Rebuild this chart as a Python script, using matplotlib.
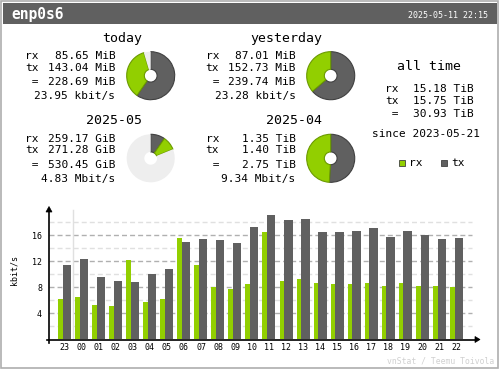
import numpy as np
import matplotlib
matplotlib.use("Agg")
import matplotlib.pyplot as plt
from matplotlib.patches import Rectangle, Polygon

plt.rcParams['font.family'] = ['DejaVu Sans Mono']
plt.rcParams['lines.scale_dashes'] = False

# --- data ---
iface = "enp0s6"
stamp = "2025-05-11 22:15"

periods = ["today", "yesterday", "2025-05", "2025-04"]
rx_vals = [85.65, 87.01, 259.17, 1.35]
tx_vals = [143.04, 152.73, 271.28, 1.40]
sum_vals = [228.69, 239.74, 530.45, 2.75]
units = ["MiB", "MiB", "GiB", "TiB"]
rates = ["23.95 kbit/s", "23.28 kbit/s", "4.83 Mbit/s", "9.34 Mbit/s"]

alltime_rx = 15.18
alltime_tx = 15.75
alltime_sum = 30.93
alltime_since = "2023-05-21"

hours = ['23', '00', '01', '02', '03', '04', '05', '06', '07', '08', '09', '10',
         '11', '12', '13', '14', '15', '16', '17', '18', '19', '20', '21', '22']
rx_rate = [6.2, 6.5, 5.3, 5.1, 12.2, 5.7, 6.2, 15.6, 11.4, 8.05, 7.75, 8.5,
           16.5, 9.0, 9.3, 8.7, 8.5, 8.5, 8.7, 8.2, 8.7, 8.2, 8.2, 8.05]
tx_rate = [11.4, 12.35, 9.6, 9.0, 8.8, 10.05, 10.8, 15.0, 15.4, 15.3, 14.8, 17.3,
           19.1, 18.35, 18.5, 16.5, 16.5, 16.7, 17.1, 15.7, 16.7, 16.05, 15.4, 15.6]
y_ticks = [4, 8, 12, 16]

# colours (vnstat defaults)
c_rx = '#92cf00'
c_tx = '#606060'
c_rx_edge = '#6b9a00'
c_tx_edge = '#404040'
c_pie_bg = '#eeeeee'
c_edge = '#aeaeae'

W, H = 500, 370
fig = plt.figure(figsize=(W / 100, H / 100), dpi=100)
fig.patch.set_facecolor('white')


def px_rect(x0, y0, x1, y1):
    # pixel box (top-left origin) -> figure fraction
    return [x0 / W, 1 - y1 / H, (x1 - x0) / W, (y1 - y0) / H]


# overlay axes in pixel coordinates
ov = fig.add_axes([0, 0, 1, 1], zorder=5)
ov.set_xlim(0, W)
ov.set_ylim(H, 0)
ov.axis('off')
ov.patch.set_alpha(0)

# frame + header
ov.add_patch(Rectangle((0.5, 0.5), W - 2.5, H - 2.5, fill=False, ec=c_edge, lw=1.2))
ov.add_patch(Rectangle((3, 3), 494, 21.3, fc=c_tx, ec='none'))
ov.text(11.5, 18.5, iface, color='white', fontsize=10.5, fontweight='bold', va='baseline')
ov.text(487.5, 17.5, stamp, color='white', fontsize=6, va='baseline', ha='right')

# --- summary blocks ---
mult = {"MiB": 1, "GiB": 1024, "TiB": 1024 * 1024}
layout = [
    # title cx, title baseline, label x, value right x, row baselines, pie centre
    (121.7, 41.7, 25, 115.3, (59.3, 71, 85, 99), (150.7, 75.7)),
    (286.2, 41.7, 205.7, 295.7, (59.3, 71, 85, 99), (330.7, 75.7)),
    (114.2, 124, 25, 115.3, (141.7, 153.3, 167.7, 181.7), (150.7, 158.3)),
    (293.8, 124, 205.7, 295.7, (141.7, 153.3, 167.7, 181.7), (330.7, 158.3)),
]

totals = [s * mult[u] for s, u in zip(sum_vals, units)]
refs = [max(totals[0], totals[1])] * 2 + [max(totals[2], totals[3])] * 2

R = 24.5
hole = 6.5
for i, (tcx, tby, lx, vx, rows, (pcx, pcy)) in enumerate(layout):
    ov.text(tcx, tby, periods[i], fontsize=9.5, ha='center', va='baseline')
    ov.text(lx, rows[0], "rx", fontsize=8, va='baseline')
    ov.text(lx, rows[1], "tx", fontsize=8, va='baseline')
    ov.text(lx, rows[2], " =", fontsize=8, va='baseline')
    ov.text(vx, rows[0], f"{rx_vals[i]:.2f} {units[i]}", fontsize=8, va='baseline', ha='right')
    ov.text(vx, rows[1], f"{tx_vals[i]:.2f} {units[i]}", fontsize=8, va='baseline', ha='right')
    ov.text(vx, rows[2], f"{sum_vals[i]:.2f} {units[i]}", fontsize=8, va='baseline', ha='right')
    ov.text(vx, rows[3], rates[i], fontsize=8, va='baseline', ha='right')

    txf = tx_vals[i] * mult[units[i]] / refs[i]
    rxf = rx_vals[i] * mult[units[i]] / refs[i]
    rest = max(0.0, 1 - txf - rxf)
    pax = fig.add_axes(px_rect(pcx - R, pcy - R, pcx + R, pcy + R), zorder=4)
    wedges, _ = pax.pie([txf, rxf, rest], colors=[c_tx, c_rx, c_pie_bg], startangle=90,
                        counterclock=False, normalize=False, radius=1,
                        wedgeprops=dict(width=(R - hole) / R, linewidth=0.8))
    wedges[0].set_edgecolor(c_tx_edge)
    wedges[1].set_edgecolor(c_rx_edge)
    wedges[2].set_edgecolor('none')
    pax.set_xlim(-1.02, 1.02)
    pax.set_ylim(-1.02, 1.02)
    pax.set_aspect('equal')

# all time
ov.text(428.7, 70, "all time", fontsize=9.5, ha='center', va='baseline')
ov.text(385, 91.7, "rx", fontsize=8, va='baseline')
ov.text(385, 104, "tx", fontsize=8, va='baseline')
ov.text(385, 117.3, " =", fontsize=8, va='baseline')
ov.text(474, 91.7, f"{alltime_rx:.2f} TiB", fontsize=8, va='baseline', ha='right')
ov.text(474, 104, f"{alltime_tx:.2f} TiB", fontsize=8, va='baseline', ha='right')
ov.text(474, 117.3, f"{alltime_sum:.2f} TiB", fontsize=8, va='baseline', ha='right')
ov.text(426.5, 137.3, f"since {alltime_since}", fontsize=8, va='baseline', ha='center')

# legend
ov.add_patch(Rectangle((399, 160), 6, 6, fc=c_rx, ec=c_tx_edge, lw=0.6))
ov.text(409.3, 166, "rx", fontsize=8, va='baseline')
ov.add_patch(Rectangle((440.7, 160), 6, 6, fc=c_tx, ec=c_tx_edge, lw=0.6))
ov.text(451.7, 166, "tx", fontsize=8, va='baseline')

# --- hourly bar chart ---
x0_px, x1_px = 49, 478
y0_px, y1_px = 339.3, 207
step = 17.04
c0 = 64.7
xmin = (x0_px - c0) / step
xmax = (x1_px - c0) / step
ymax = (y0_px - y1_px) / 6.5

ax = fig.add_axes(px_rect(x0_px, y1_px, x1_px, y0_px), zorder=3)
ax.patch.set_alpha(0)
ax.set_xlim(xmin, xmax)
ax.set_ylim(0, ymax)
for s in ax.spines.values():
    s.set_visible(False)

grid_frac = (472 - x0_px) / (x1_px - x0_px)
for v in range(2, 20, 2):
    col = '#b0b0b0' if v % 4 == 0 else '#e0e0e0'
    ax.axhline(v, xmin=0, xmax=grid_frac, color=col, lw=1, ls=(0, (3.6, 2.2)), zorder=1)
ax.axvline(0.5, ymin=0, ymax=(339.3 - 210) / (y0_px - y1_px), color='#e0e0e0', lw=1, zorder=1)

idx = np.arange(len(hours))
bw_rx = 4.7 / step
bw_tx = 8.3 / step
left_rx = -6.7 / step
left_tx = -2.0 / step
ax.bar(idx + left_rx, rx_rate, width=bw_rx, align='edge', color=c_rx, zorder=2)
ax.bar(idx + left_tx, tx_rate, width=bw_tx, align='edge', color=c_tx, zorder=2)

ax.set_xticks(idx)
ax.set_xticklabels(hours)
ax.set_yticks(y_ticks)
ax.set_yticklabels([str(t) for t in y_ticks])
ax.tick_params(axis='both', length=0, labelsize=6)
ax.tick_params(axis='x', pad=3)
ax.tick_params(axis='y', pad=5)

# axes lines with arrow heads
ov.plot([46.5, 476], [339.5, 339.5], color='black', lw=1.2, zorder=6)
ov.plot([49, 49], [343, 210], color='black', lw=1.2, zorder=6)
ov.add_patch(Polygon([[475, 336.5], [480, 339.5], [475, 342.5]], closed=True, fc='black', ec='black', lw=0.5, zorder=6))
ov.add_patch(Polygon([[46, 212], [49, 206.5], [52, 212]], closed=True, fc='black', ec='black', lw=0.5, zorder=6))

ov.text(14.5, 269.7, "kbit/s", fontsize=6, rotation=90, ha='center', va='center')
ov.text(494, 363.3, "vnStat / Teemu Toivola", fontsize=5.9, color='#d0d0d0', ha='right', va='baseline')

fig.savefig("out.png", dpi=100)
